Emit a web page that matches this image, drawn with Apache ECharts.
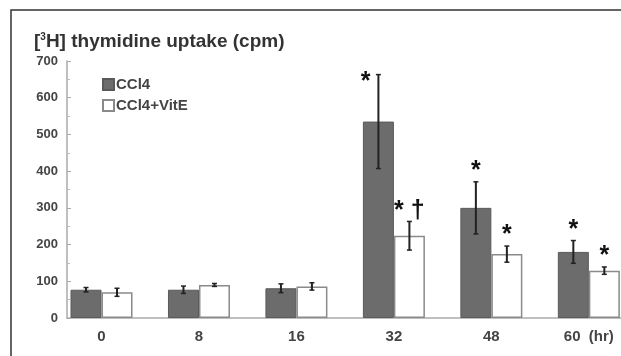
<!DOCTYPE html>
<html>
<head>
<meta charset="utf-8">
<script src="https://cdn.jsdelivr.net/npm/echarts@6/dist/echarts.min.js"></script>
<style>
  html, body { margin: 0; padding: 0; background: #fff; }
  #chart { width: 621px; height: 356px; }
</style>
</head>
<body>
<div id="chart"></div>
<script>
// time points (hr)
const hours = ['0', '8', '16', '32', '48', '60'];
// mean uptake and error (cpm)
const ccl4 = [77, 77, 81, 535, 300, 180];
const ccl4Err = [6, 10, 12, 128, 71, 31];
const ccl4VitE = [70, 90, 86, 224, 174, 129];
const ccl4VitEErr = [11, 4, 10, 39, 22, 10];
// significance marks
const ccl4Marks = ['', '', '', '*', '*', '*'];
const ccl4VitEMarks = ['', '', '', '* †', '*', '*'];
const yTicks = [0, 100, 200, 300, 400, 500, 600, 700];

const BAR_W = 31;
const FONT = '"Liberation Sans", Arial, sans-serif';

const chart = echarts.init(document.getElementById('chart'), null, { renderer: 'canvas' });

// error bar + mark drawn next to each bar
function errorSeries(name, values, errs, marks, shift) {
  return {
    type: 'custom',
    name: name + ' err',
    z: 5,
    data: values.map((v, i) => [i, v, errs[i]]),
    renderItem: (params, api) => {
      const i = api.value(0);
      const v = api.value(1);
      const e = api.value(2);
      const top = api.coord([i, v + e]);
      const bot = api.coord([i, v - e]);
      const x = top[0] + shift;
      const cap = 2.5;
      const children = [
        { type: 'line', shape: { x1: x, y1: top[1], x2: x, y2: bot[1] }, style: { stroke: '#222', lineWidth: 2 } },
        { type: 'line', shape: { x1: x - cap, y1: top[1], x2: x + cap, y2: top[1] }, style: { stroke: '#222', lineWidth: 1.5 } },
        { type: 'line', shape: { x1: x - cap, y1: bot[1], x2: x + cap, y2: bot[1] }, style: { stroke: '#222', lineWidth: 1.5 } }
      ];
      const mark = marks[params.dataIndex];
      if (mark) {
        const high = v + e > 600;
        children.push({
          type: 'text',
          style: {
            text: mark,
            x: high ? x - 8 : x,
            y: high ? top[1] + 8 : top[1] + 2,
            align: high ? 'right' : 'center',
            verticalAlign: high ? 'middle' : 'bottom',
            font: 'bold 25px ' + FONT,
            fill: '#111'
          }
        });
      }
      return { type: 'group', children };
    }
  };
}

const option = {
  backgroundColor: '#fff',
  animation: false,
  textStyle: { fontFamily: FONT },
  graphic: [
    {
      type: 'rect',
      shape: { x: 11, y: 10, width: 700, height: 400 },
      style: { fill: 'none', stroke: '#333', lineWidth: 1.5 },
      silent: true
    }
  ],
  title: {
    text: '[{sup|3}H] thymidine uptake (cpm)',
    left: 29,
    top: 27,
    textStyle: {
      fontFamily: FONT,
      fontSize: 19,
      fontWeight: 'bold',
      color: '#333',
      rich: {
        sup: { fontSize: 10, fontWeight: 'bold', color: '#333', verticalAlign: 'top', padding: [0, 0, 9, 0] }
      }
    }
  },
  legend: {
    orient: 'vertical',
    left: 102,
    top: 77,
    padding: 0,
    icon: 'rect',
    itemWidth: 11,
    itemHeight: 11,
    itemGap: 6,
    selectedMode: false,
    data: ['CCl4', 'CCl4+VitE'],
    textStyle: { fontFamily: FONT, fontSize: 15, fontWeight: 'bold', color: '#444', padding: [0, 0, 0, -3] }
  },
  grid: { left: 67, right: 0, top: 61, bottom: 38 },
  xAxis: {
    type: 'value',
    min: -0.354,
    max: 5.33,
    splitLine: { show: false },
    axisTick: { show: false },
    axisLine: { show: true, onZero: false, lineStyle: { color: '#aaa', width: 1.5 } },
    axisLabel: {
      customValues: [0, 1, 2, 3, 4, 5],
      formatter: v => (v === 5 ? hours[v] + '  (hr)' : hours[v]),
      margin: 11,
      fontFamily: FONT,
      fontSize: 15,
      fontWeight: 'bold',
      color: '#444'
    }
  },
  yAxis: {
    type: 'value',
    min: 0,
    max: 700,
    interval: 100,
    splitLine: { show: false },
    axisLine: { show: true, onZero: false, lineStyle: { color: '#aaa', width: 1.5 } },
    axisTick: { show: true, inside: true, length: 4, lineStyle: { color: '#aaa' } },
    minorTick: { show: true, splitNumber: 2, length: 3, lineStyle: { color: '#bbb' } },
    axisLabel: {
      margin: 9,
      fontFamily: FONT,
      fontSize: 13,
      fontWeight: 'bold',
      color: '#444',
      formatter: v => (yTicks.indexOf(v) >= 0 ? String(v) : '')
    }
  },
  series: [
    {
      name: 'CCl4',
      type: 'bar',
      barWidth: BAR_W,
      barGap: '0%',
      clip: false,
      itemStyle: { color: '#6c6c6c', borderColor: '#5a5a5a', borderWidth: 1 },
      data: ccl4.map((v, i) => [i, v])
    },
    {
      name: 'CCl4+VitE',
      type: 'bar',
      barWidth: BAR_W,
      barGap: '0%',
      clip: false,
      itemStyle: { color: '#fff', borderColor: '#8a8a8a', borderWidth: 1.5 },
      data: ccl4VitE.map((v, i) => [i, v])
    },
    errorSeries('CCl4', ccl4, ccl4Err, ccl4Marks, -BAR_W / 2),
    errorSeries('CCl4+VitE', ccl4VitE, ccl4VitEErr, ccl4VitEMarks, BAR_W / 2)
  ]
};

chart.setOption(option);
</script>
</body>
</html>
